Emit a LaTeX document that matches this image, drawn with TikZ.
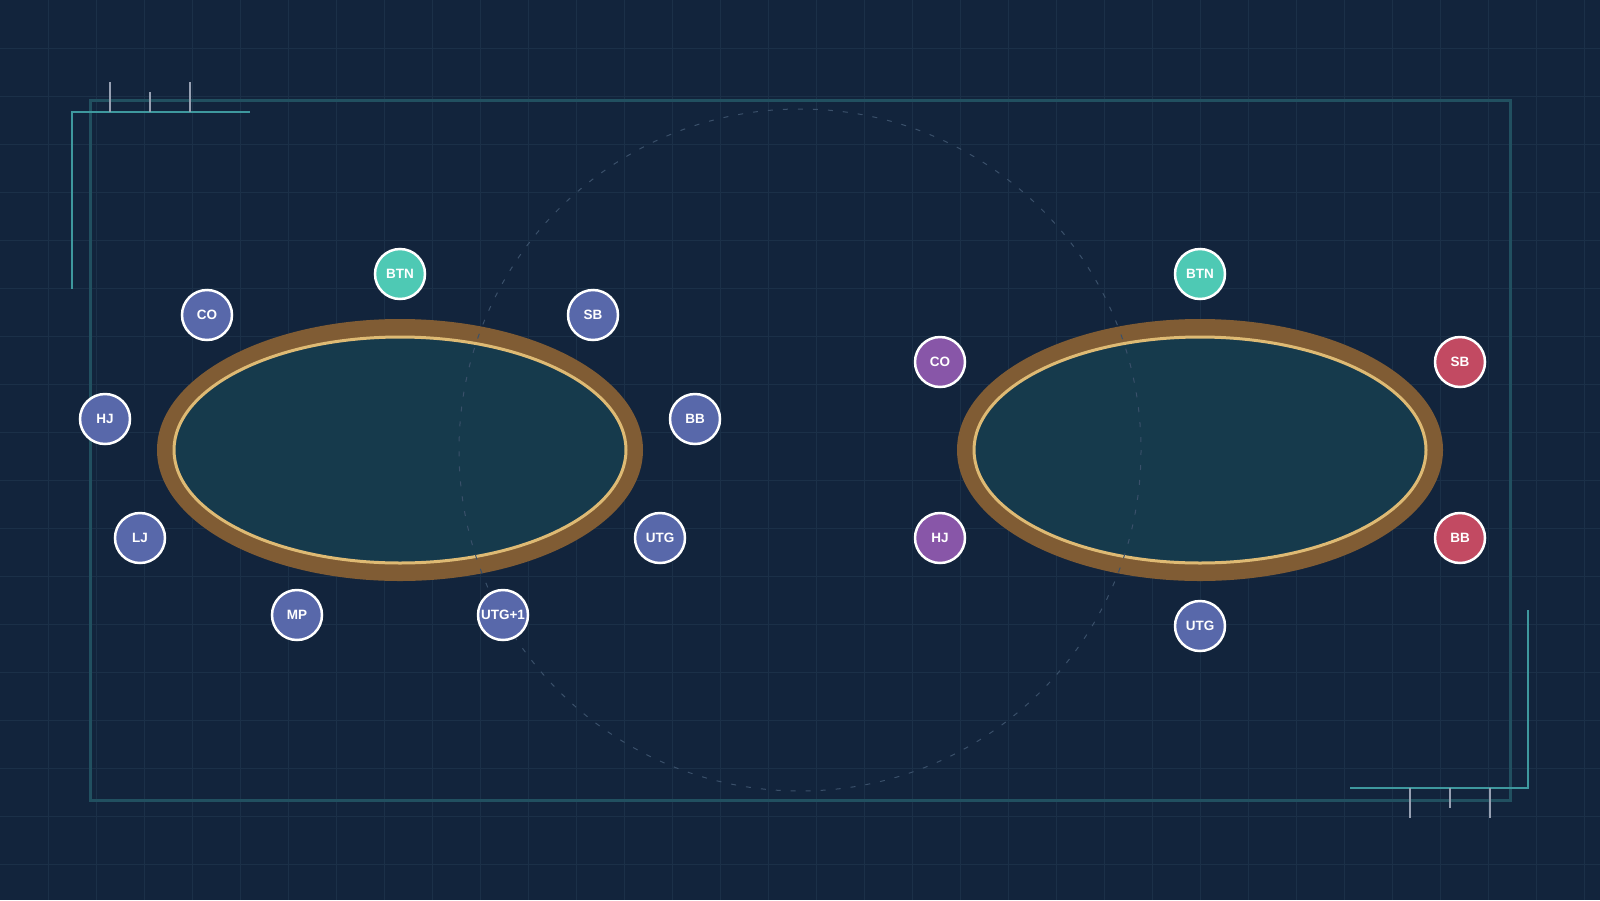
\documentclass[tikz,border=0pt]{standalone}
\usepackage{fontspec}
\setmainfont{Liberation Sans}
\definecolor{bgc}{RGB}{18,36,60}
\definecolor{gridc}{RGB}{27,48,72}
\definecolor{framec}{RGB}{33,80,96}
\definecolor{bracketc}{RGB}{62,152,158}
\definecolor{tickc}{RGB}{150,160,178}
\definecolor{railc}{RGB}{128,92,52}
\definecolor{rimc}{RGB}{222,186,116}
\definecolor{feltc}{RGB}{22,58,76}
\definecolor{circc}{RGB}{58,80,106}
\definecolor{seatblue}{RGB}{88,104,170}
\definecolor{seatteal}{RGB}{78,201,180}
\definecolor{seatpurple}{RGB}{136,86,168}
\definecolor{seatred}{RGB}{194,74,98}
\tikzset{
  gridline/.style={gridc, line width=1pt},
  seat/.style={circle, draw=white, line width=2.5pt, minimum size=50pt, inner sep=0pt,
    text=white, font=\fontsize{13.5}{13.5}\selectfont\bfseries},
  blueseat/.style={seat, fill=seatblue},
  tealseat/.style={seat, fill=seatteal},
  purpleseat/.style={seat, fill=seatpurple},
  redseat/.style={seat, fill=seatred},
  bracket/.style={bracketc, line width=2pt},
  tick/.style={tickc, line width=2pt},
}
\begin{document}
\begin{tikzpicture}[x=1pt,y=-1pt]
\useasboundingbox (0,0) rectangle (1600,900);
\fill[bgc] (0,0) rectangle (1600,900);
% grid
\foreach \x in {48,96,...,1584} \draw[gridline] (\x,0) -- (\x,900);
\foreach \y in {48,96,...,864} \draw[gridline] (0,\y) -- (1600,\y);
% frame
\draw[framec, line width=3pt] (90,100) rectangle (1510,800);
% brackets
\draw[bracket] (72,289) -- (72,112) -- (250,112);
\draw[tick] (110,82) -- (110,112);
\draw[tick] (150,92) -- (150,112);
\draw[tick] (190,82) -- (190,112);
\draw[bracket] (1350,788) -- (1528,788) -- (1528,610);
\draw[tick] (1410,788) -- (1410,818);
\draw[tick] (1450,788) -- (1450,808);
\draw[tick] (1490,788) -- (1490,818);
% tables
\foreach \cx in {400,1200} {
  \fill[railc] (\cx,450) ellipse [x radius=243, y radius=131];
  \draw[rimc, fill=feltc, line width=3pt] (\cx,450) ellipse [x radius=226, y radius=113];
}
% dashed circle
\draw[circc, line width=1pt, dash pattern=on 5pt off 10pt] (800,450) circle [radius=341];
% left table seats
\node[tealseat] (lbtn) at (400,274) {BTN};
\node[blueseat] (lco) at (207,315) {CO};
\node[blueseat] (lsb) at (593,315) {SB};
\node[blueseat] (lhj) at (105,419) {HJ};
\node[blueseat] (lbb) at (695,419) {BB};
\node[blueseat] (llj) at (140,538) {LJ};
\node[blueseat] (lutg) at (660,538) {UTG};
\node[blueseat] (lmp) at (297,615) {MP};
\node[blueseat] (lutgone) at (503,615) {UTG+1};
% right table seats
\node[tealseat] (rbtn) at (1200,274) {BTN};
\node[redseat] (rsb) at (1460,362) {SB};
\node[redseat] (rbb) at (1460,538) {BB};
\node[blueseat] (rutg) at (1200,626) {UTG};
\node[purpleseat] (rhj) at (940,538) {HJ};
\node[purpleseat] (rco) at (940,362) {CO};
\end{tikzpicture}
\end{document}
